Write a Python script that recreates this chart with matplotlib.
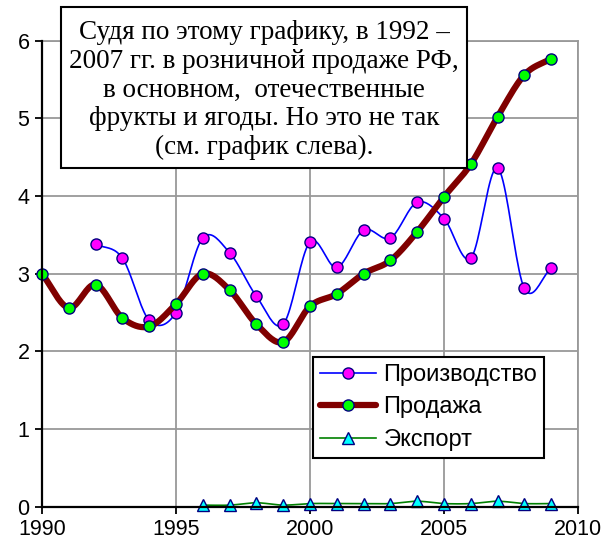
import matplotlib
matplotlib.use("Agg")
import matplotlib.pyplot as plt
import numpy as np
from matplotlib.patches import Rectangle

# data
years_prod = list(range(1992, 2010))
production = [3.38, 3.20, 2.40, 2.50, 3.46, 3.27, 2.71, 2.35, 3.41,
              3.08, 3.56, 3.46, 3.92, 3.71, 3.20, 4.36, 2.81, 3.07]

years_sales = list(range(1990, 2010))
sales = [3.00, 2.56, 2.86, 2.43, 2.32, 2.61, 3.00, 2.79, 2.35, 2.12,
         2.58, 2.74, 3.00, 3.17, 3.54, 3.99, 4.41, 5.02, 5.56, 5.77]

years_export = list(range(1996, 2010))
export = [0.02, 0.02, 0.05, 0.02, 0.04, 0.04, 0.04, 0.04, 0.07, 0.04,
          0.04, 0.07, 0.04, 0.04]

labels = ["Производство", "Продажа", "Экспорт"]
note = ("Судя по этому графику, в 1992 –\n"
        "2007 гг. в розничной продаже РФ,\n"
        "в основном,  отечественные\n"
        "фрукты и ягоды. Но это не так\n"
        "(см. график слева).")


def smooth(x, y, n=20):
    # Catmull-Rom curve through the points, like Excel's smoothed line
    x = np.asarray(x, float)
    y = np.asarray(y, float)
    px = np.concatenate([[2 * x[0] - x[1]], x, [2 * x[-1] - x[-2]]])
    py = np.concatenate([[2 * y[0] - y[1]], y, [2 * y[-1] - y[-2]]])
    t = np.linspace(0, 1, n, endpoint=False)
    xs, ys = [], []
    for i in range(1, len(px) - 2):
        for p, out in ((px, xs), (py, ys)):
            p0, p1, p2, p3 = p[i - 1], p[i], p[i + 1], p[i + 2]
            out.extend(0.5 * (2 * p1 + (-p0 + p2) * t
                              + (2 * p0 - 5 * p1 + 4 * p2 - p3) * t ** 2
                              + (-p0 + 3 * p1 - 3 * p2 + p3) * t ** 3))
    xs.append(x[-1])
    ys.append(y[-1])
    return xs, ys


plt.rcParams['font.family'] = ['Liberation Sans', 'DejaVu Sans']

fig = plt.figure(figsize=(6.06, 5.44), dpi=100)
ax = fig.add_axes([0.0693, 0.0686, 0.8845, 0.8566])

edge = '#000080'
ms = 8

# production
sx, sy = smooth(years_prod, production)
ax.plot(sx, sy, color='#0000ff', lw=1.2, zorder=3, clip_on=False)
ax.plot(years_prod, production, ls='none', marker='o', ms=ms,
        mfc='#ff00ff', mec=edge, mew=1, zorder=4, clip_on=False)

# sales
sx, sy = smooth(years_sales, sales)
ax.plot(sx, sy, color='#800000', lw=4.5, zorder=5, clip_on=False,
        solid_capstyle='round')
ax.plot(years_sales, sales, ls='none', marker='o', ms=ms,
        mfc='#00ff00', mec=edge, mew=1, zorder=6, clip_on=False)

# export
sx, sy = smooth(years_export, export)
ax.plot(sx, sy, color='#008000', lw=1.2, zorder=7, clip_on=False)
ax.plot(years_export, export, ls='none', marker='^', ms=ms + 1,
        mfc='#00ffff', mec=edge, mew=1, zorder=8, clip_on=False)

# legend handles
h1, = ax.plot([], [], color='#0000ff', lw=1.2, marker='o', ms=ms,
              mfc='#ff00ff', mec=edge, mew=1)
h2, = ax.plot([], [], color='#800000', lw=4.5, marker='o', ms=ms,
              mfc='#00ff00', mec=edge, mew=1, solid_capstyle='round')
h3, = ax.plot([], [], color='#008000', lw=1.2, marker='^', ms=ms + 1,
              mfc='#00ffff', mec=edge, mew=1)
leg = ax.legend([h1, h2, h3], labels, loc='upper left',
                bbox_to_anchor=(312.7 / 606, 1 - 356.7 / 544),
                bbox_transform=fig.transFigure, fontsize=17,
                fancybox=False, framealpha=1, edgecolor='black',
                borderpad=0.3, handlelength=2.4, handletextpad=0.3,
                labelspacing=0.45, borderaxespad=0)
leg.get_frame().set_linewidth(1.5)
leg.set_zorder(10)

ax.set_xlim(1990, 2010)
ax.set_ylim(0, 6)
ax.set_xticks([1990, 1995, 2000, 2005, 2010])
ax.set_yticks(range(7))
ax.grid(True, color='#999999', lw=1.3)
ax.set_axisbelow(True)
for s in ('top', 'right'):
    ax.spines[s].set_color('#999999')
    ax.spines[s].set_linewidth(1.3)
for s in ('left', 'bottom'):
    ax.spines[s].set_color('black')
    ax.spines[s].set_linewidth(1.6)
    ax.spines[s].set_zorder(9)
ax.tick_params(direction='out', length=5, width=1.3, labelsize=15.5,
               pad=4)

# note box
fig.patches.append(Rectangle((61 / 606, 1 - 167.7 / 544),
                             (467 - 61) / 606, (167.7 - 7.3) / 544,
                             transform=fig.transFigure, facecolor='white',
                             edgecolor='black', lw=1.5, zorder=20))
fig.text(264 / 606, 1 - 90 / 544, note, ha='center', va='center',
         fontsize=19.5, family='Liberation Serif', linespacing=1.2,
         zorder=21)

fig.savefig('out.png', dpi=100)
